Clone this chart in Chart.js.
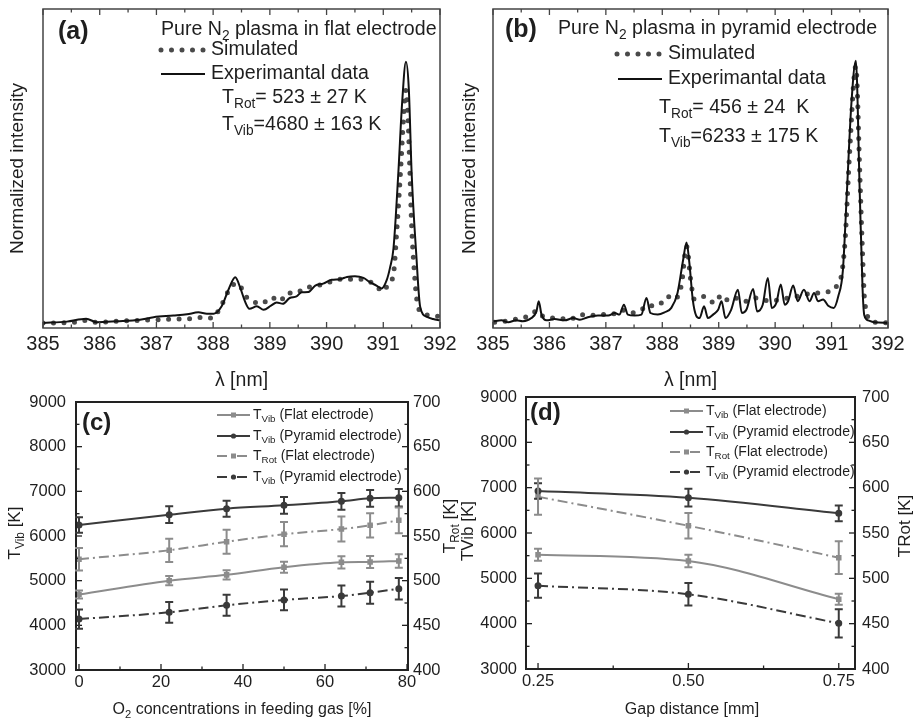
<!DOCTYPE html>
<html>
<head>
<meta charset="utf-8">
<script src="https://cdn.jsdelivr.net/npm/chart.js@4.4.1/dist/chart.umd.min.js"></script>
<style>
body { margin: 0; background: #fff; }
#wrap { position: relative; width: 915px; height: 720px; overflow: hidden; background: #fff; }
canvas { position: absolute; }
</style>
</head>
<body>
<div id="wrap">
  <canvas id="chartA" width="458" height="395" style="left:0px;top:0px"></canvas>
  <canvas id="chartB" width="460" height="395" style="left:455px;top:0px"></canvas>
  <canvas id="chartC" width="460" height="340" style="left:0px;top:380px"></canvas>
  <canvas id="chartD" width="460" height="340" style="left:455px;top:380px"></canvas>
</div>
<script>
// ---- data ----
// (a) pure N2, flat electrode
var aExpNm  = [385.00, 385.42, 385.76, 385.95, 386.30, 386.71, 386.95, 387.30, 387.54, 387.74, 387.89, 388.01, 388.15, 388.27, 388.39, 388.48, 388.56, 388.64, 388.77, 388.89, 389.02, 389.12, 389.23, 389.35, 389.47, 389.56, 389.68, 389.80, 389.94, 390.09, 390.24, 390.36, 390.50, 390.65, 390.77, 390.88, 390.97, 391.06, 391.12, 391.18, 391.265, 391.33, 391.40, 391.45, 391.50, 391.58, 391.65, 391.77, 391.88, 392.00];
var aExpInt = [0.016, 0.020, 0.029, 0.018, 0.021, 0.026, 0.034, 0.039, 0.043, 0.049, 0.045, 0.045, 0.068, 0.120, 0.159, 0.125, 0.084, 0.060, 0.068, 0.057, 0.070, 0.080, 0.076, 0.094, 0.099, 0.112, 0.113, 0.133, 0.139, 0.151, 0.153, 0.160, 0.162, 0.157, 0.143, 0.133, 0.124, 0.150, 0.190, 0.250, 0.485, 0.700, 0.835, 0.750, 0.485, 0.235, 0.067, 0.035, 0.028, 0.024];
var aSimNm  = [385.00, 385.30, 385.55, 385.76, 385.95, 386.30, 386.70, 387.00, 387.30, 387.60, 387.80, 387.98, 388.15, 388.30, 388.42, 388.50, 388.58, 388.69, 388.86, 389.02, 389.18, 389.30, 389.47, 389.60, 389.74, 389.91, 390.09, 390.27, 390.41, 390.59, 390.74, 390.88, 391.00, 391.08, 391.18, 391.24, 391.28, 391.32, 391.35, 391.40, 391.44, 391.47, 391.50, 391.55, 391.59, 391.65, 391.82, 392.00];
var aSimInt = [0.016, 0.016, 0.018, 0.024, 0.018, 0.021, 0.024, 0.026, 0.028, 0.029, 0.033, 0.031, 0.073, 0.125, 0.141, 0.125, 0.099, 0.084, 0.076, 0.096, 0.084, 0.110, 0.110, 0.125, 0.130, 0.136, 0.146, 0.153, 0.153, 0.153, 0.148, 0.130, 0.114, 0.135, 0.170, 0.310, 0.420, 0.540, 0.640, 0.746, 0.640, 0.485, 0.320, 0.170, 0.090, 0.052, 0.040, 0.036];

// (b) pure N2, pyramid electrode
var bExpNm  = [385.00, 385.15, 385.27, 385.41, 385.53, 385.68, 385.77, 385.81, 385.86, 385.95, 386.09, 386.27, 386.42, 386.54, 386.68, 386.86, 387.04, 387.16, 387.24, 387.32, 387.39, 387.51, 387.63, 387.72, 387.79, 387.92, 388.04, 388.16, 388.27, 388.37, 388.43, 388.48, 388.54, 388.60, 388.66, 388.74, 388.81, 388.90, 388.99, 389.05, 389.12, 389.22, 389.34, 389.41, 389.49, 389.61, 389.68, 389.78, 389.87, 389.94, 390.02, 390.10, 390.17, 390.23, 390.32, 390.40, 390.51, 390.61, 390.69, 390.76, 390.85, 390.94, 391.04, 391.12, 391.20, 391.27, 391.35, 391.43, 391.50, 391.55, 391.58, 391.65, 391.76, 392.00];
var bExpInt = [0.021, 0.024, 0.018, 0.024, 0.021, 0.031, 0.052, 0.084, 0.042, 0.024, 0.028, 0.024, 0.031, 0.026, 0.034, 0.039, 0.039, 0.047, 0.042, 0.073, 0.042, 0.039, 0.042, 0.094, 0.047, 0.042, 0.049, 0.063, 0.110, 0.214, 0.268, 0.204, 0.089, 0.039, 0.031, 0.068, 0.031, 0.042, 0.057, 0.084, 0.031, 0.057, 0.120, 0.047, 0.057, 0.122, 0.052, 0.073, 0.157, 0.063, 0.078, 0.136, 0.073, 0.084, 0.133, 0.084, 0.120, 0.084, 0.110, 0.084, 0.089, 0.070, 0.063, 0.100, 0.180, 0.420, 0.700, 0.838, 0.420, 0.120, 0.040, 0.024, 0.018, 0.016];
var bSimNm  = [385.03, 385.20, 385.35, 385.50, 385.68, 385.78, 385.90, 386.15, 386.36, 386.54, 386.71, 386.92, 387.10, 387.27, 387.45, 387.63, 387.75, 387.86, 387.98, 388.09, 388.20, 388.34, 388.43, 388.51, 388.57, 388.75, 388.93, 389.05, 389.19, 389.34, 389.49, 389.64, 389.78, 389.93, 390.08, 390.23, 390.38, 390.52, 390.67, 390.82, 390.97, 391.05, 391.11, 391.18, 391.24, 391.32, 391.43, 391.50, 391.54, 391.59, 391.73, 392.00];
var bSimInt = [0.018, 0.021, 0.026, 0.031, 0.042, 0.055, 0.035, 0.031, 0.026, 0.042, 0.039, 0.042, 0.042, 0.057, 0.047, 0.057, 0.073, 0.068, 0.078, 0.099, 0.089, 0.136, 0.256, 0.141, 0.089, 0.099, 0.078, 0.104, 0.084, 0.094, 0.084, 0.094, 0.089, 0.084, 0.089, 0.094, 0.099, 0.104, 0.110, 0.110, 0.115, 0.120, 0.140, 0.170, 0.276, 0.550, 0.820, 0.486, 0.276, 0.078, 0.019, 0.016];

var nmTicks = [385, 386, 387, 388, 389, 390, 391, 392];
var nmMinor = [385.5, 386.5, 387.5, 388.5, 389.5, 390.5, 391.5];

// (c) O2 concentration series
var o2Conc = [0, 22, 36, 50, 64, 71, 78];
var cVibFlat = [4690, 5000, 5130, 5300, 5410, 5420, 5440];
var cVibFlatErr = [90, 105, 105, 125, 135, 135, 150];
var cVibPyr = [6246, 6477, 6611, 6686, 6776, 6843, 6857];
var cVibPyrErr = [172, 187, 180, 187, 187, 187, 195];
var cRotFlat = [524, 534, 543.6, 552, 557.8, 562, 567.6];
var cRotFlatErr = [12.7, 13, 13.4, 13.6, 14, 13.6, 14.4];
var cRotPyr = [457, 464.6, 472.4, 478.4, 482.8, 486.5, 491];
var cRotPyrErr = [10.8, 11.6, 11.8, 11.6, 11.8, 12.3, 12.1];

// (d) gap distance series
var gapDist = [0.25, 0.50, 0.75];
var dVibFlat = [5522, 5382, 4537];
var dVibFlatErr = [132, 136, 121];
var dVibPyr = [6927, 6779, 6434];
var dVibPyrErr = [170, 195, 173];
var dRotFlat = [590, 558, 522.8];
var dRotFlatErr = [20, 14, 18];
var dRotPyr = [491.9, 482.4, 450.4];
var dRotPyrErr = [13.4, 12.5, 15.6];

var vibTicks = [3000, 4000, 5000, 6000, 7000, 8000, 9000];
var vibMinor = [3500, 4500, 5500, 6500, 7500, 8500];
var rotTicks = [400, 450, 500, 550, 600, 650, 700];
var rotMinor = [425, 475, 525, 575, 625, 675];

var seriesNames = [
  [['T'], ['Vib', 1], [' (Flat electrode)']],
  [['T'], ['Vib', 1], [' (Pyramid electrode)']],
  [['T'], ['Rot', 1], [' (Flat electrode)']],
  [['T'], ['Vib', 1], [' (Pyramid electrode)']]
];

var FONT = "'Liberation Sans', Arial, sans-serif";
var LIGHT = '#8c8c8c';
var DARK = '#3a3a3a';
var TXT = '#1e1e1e';
Chart.defaults.font.family = FONT;
Chart.defaults.color = TXT;

// text with subscripts, parts = [[text, isSub], ...]
function drawRich(ctx, parts, x, y, size, opt) {
  opt = opt || {};
  var weight = opt.bold ? 'bold ' : '';
  ctx.save();
  ctx.fillStyle = TXT;
  ctx.textBaseline = 'middle';
  ctx.textAlign = 'left';
  var w = 0;
  parts.forEach(function(p) {
    ctx.font = weight + (p[1] ? size * 0.7 : size) + 'px ' + FONT;
    w += ctx.measureText(p[0]).width;
  });
  ctx.translate(x, y);
  if (opt.rot) ctx.rotate(opt.rot);
  var cx = opt.center ? -w / 2 : 0;
  parts.forEach(function(p) {
    ctx.font = weight + (p[1] ? size * 0.7 : size) + 'px ' + FONT;
    ctx.fillText(p[0], cx, p[1] ? size * 0.32 : 0);
    cx += ctx.measureText(p[0]).width;
  });
  ctx.restore();
}

function makeFrame(spec) {
  return {
    id: 'frame',
    afterDatasetsDraw: function(chart) {
      var ctx = chart.ctx, a = chart.chartArea;
      function xTick(v, len) {
        var px = chart.scales.x.getPixelForValue(v);
        ctx.beginPath();
        ctx.moveTo(px, a.bottom); ctx.lineTo(px, a.bottom - len);
        if (spec.topTicks) { ctx.moveTo(px, a.top); ctx.lineTo(px, a.top + len); }
        ctx.stroke();
      }
      function yTick(id, v, len) {
        var py = chart.scales[id].getPixelForValue(v);
        var x0 = id === 'y' ? a.left : a.right;
        var dir = id === 'y' ? 1 : -1;
        ctx.beginPath(); ctx.moveTo(x0, py); ctx.lineTo(x0 + dir * len, py); ctx.stroke();
      }
      ctx.save();
      ctx.strokeStyle = spec.color;
      ctx.lineWidth = spec.width;
      ctx.strokeRect(a.left, a.top, a.right - a.left, a.bottom - a.top);
      ctx.lineWidth = 1.3;
      spec.xMajor.forEach(function(v) { xTick(v, 6); });
      spec.xMinor.forEach(function(v) { xTick(v, 3.5); });
      if (spec.yMajor) {
        spec.yMajor.forEach(function(v) { yTick('y', v, 6); });
        spec.yMinor.forEach(function(v) { yTick('y', v, 3.5); });
        spec.y2Major.forEach(function(v) { yTick('y2', v, 6); });
        spec.y2Minor.forEach(function(v) { yTick('y2', v, 3.5); });
      }
      ctx.restore();
    }
  };
}

var errorBars = {
  id: 'errorBars',
  afterDatasetsDraw: function(chart) {
    var ctx = chart.ctx;
    chart.data.datasets.forEach(function(ds, i) {
      if (!ds.errors) return;
      var meta = chart.getDatasetMeta(i);
      var ys = chart.scales[meta.yAxisID];
      ctx.save();
      ctx.strokeStyle = ds.borderColor;
      ctx.lineWidth = 2;
      meta.data.forEach(function(pt, j) {
        var v = ds.data[j].y, e = ds.errors[j];
        var y1 = ys.getPixelForValue(v - e), y2 = ys.getPixelForValue(v + e);
        ctx.beginPath();
        ctx.moveTo(pt.x, y1); ctx.lineTo(pt.x, y2);
        ctx.moveTo(pt.x - 4, y1); ctx.lineTo(pt.x + 4, y1);
        ctx.moveTo(pt.x - 4, y2); ctx.lineTo(pt.x + 4, y2);
        ctx.stroke();
      });
      ctx.restore();
    });
  }
};

function pts(xs, ys) {
  return xs.map(function(x, i) { return { x: x, y: ys[i] }; });
}

function dotSample(ctx, x0, x1, y) {
  ctx.save();
  ctx.strokeStyle = '#4a4a4a'; ctx.lineWidth = 5; ctx.lineCap = 'round';
  ctx.setLineDash([0, 10.5]);
  ctx.beginPath(); ctx.moveTo(x0, y); ctx.lineTo(x1, y); ctx.stroke();
  ctx.restore();
}
function lineSample(ctx, x0, x1, y) {
  ctx.save();
  ctx.strokeStyle = '#111'; ctx.lineWidth = 2;
  ctx.beginPath(); ctx.moveTo(x0, y); ctx.lineTo(x1, y); ctx.stroke();
  ctx.restore();
}

function noAxisLines() {
  return { grid: { display: false, drawTicks: false }, border: { display: false } };
}

function makeSpectrum(canvasId, expNm, expInt, simNm, simInt, box, notes) {
  var cv = document.getElementById(canvasId);
  var W = cv.width, H = cv.height;
  return new Chart(cv.getContext('2d'), {
    type: 'line',
    data: {
      datasets: [{
        data: pts(expNm, expInt),
        borderColor: '#111', borderWidth: 2, pointRadius: 0,
        cubicInterpolationMode: 'monotone'
      }, {
        data: pts(simNm, simInt),
        borderColor: '#4a4a4a', borderWidth: 5, pointRadius: 0,
        borderDash: [0, 10.5], borderCapStyle: 'round',
        cubicInterpolationMode: 'monotone'
      }]
    },
    options: {
      responsive: false, animation: false,
      layout: { padding: { left: 0, top: box.top, right: W - box.right, bottom: 0 } },
      plugins: { legend: { display: false }, tooltip: { enabled: false } },
      scales: {
        x: Object.assign(noAxisLines(), {
          type: 'linear', min: 385, max: 392,
          afterBuildTicks: function(s) { s.ticks = nmTicks.map(function(v) { return { value: v }; }); },
          afterFit: function(s) { s.height = H - box.bottom; s.paddingLeft = 0; s.paddingRight = 0; },
          ticks: { font: { size: 20 }, padding: 4, maxRotation: 0, autoSkip: false, callback: function(v) { return String(v); } }
        }),
        y: Object.assign(noAxisLines(), {
          min: 0, max: 1,
          afterFit: function(s) { s.width = box.left; s.paddingTop = 0; s.paddingBottom = 0; },
          ticks: { display: false }
        })
      }
    },
    plugins: [
      makeFrame({ color: '#444', width: 1.5, topTicks: true, xMajor: nmTicks, xMinor: nmMinor }),
      { id: 'notes', afterDraw: function(chart) {
          var ctx = chart.ctx, a = chart.chartArea;
          drawRich(ctx, [['Normalized intensity']], box.ytitle, (a.top + a.bottom) / 2, 19, { rot: -Math.PI / 2, center: true });
          drawRich(ctx, [['\u03bb [nm]']], (a.left + a.right) / 2, 381, 19.5, { center: true });
          notes(ctx);
        } }
    ]
  });
}

makeSpectrum('chartA', aExpNm, aExpInt, aSimNm, aSimInt,
  { left: 43, right: 440, top: 9, bottom: 328, ytitle: 18 },
  function(ctx) {
    drawRich(ctx, [['(a)']], 58, 32, 25, { bold: true });
    drawRich(ctx, [['Pure N'], ['2', 1], [' plasma in flat electrode']], 161, 30, 19.6);
    dotSample(ctx, 161, 207, 50);
    drawRich(ctx, [['Simulated']], 211, 50, 19.6);
    lineSample(ctx, 161, 205, 74);
    drawRich(ctx, [['Experimantal data']], 211, 74, 19.6);
    drawRich(ctx, [['T'], ['Rot', 1], ['= 523 \u00b1 27 K']], 222, 98, 19.6);
    drawRich(ctx, [['T'], ['Vib', 1], ['=4680 \u00b1 163 K']], 222, 125, 19.6);
  });

makeSpectrum('chartB', bExpNm, bExpInt, bSimNm, bSimInt,
  { left: 38, right: 433, top: 9, bottom: 328, ytitle: 15 },
  function(ctx) {
    drawRich(ctx, [['(b)']], 50, 30, 25, { bold: true });
    drawRich(ctx, [['Pure N'], ['2', 1], [' plasma in pyramid electrode']], 103, 29, 19.6);
    dotSample(ctx, 162, 208, 54);
    drawRich(ctx, [['Simulated']], 213, 54, 19.6);
    lineSample(ctx, 163, 207, 79);
    drawRich(ctx, [['Experimantal data']], 213, 79, 19.6);
    drawRich(ctx, [['T'], ['Rot', 1], ['= 456 \u00b1 24  K']], 204, 108, 19.6);
    drawRich(ctx, [['T'], ['Vib', 1], ['=6233 \u00b1 175 K']], 204, 137, 19.6);
  });

function tempSeries(xs, vib1, vib1e, vib2, vib2e, rot1, rot1e, rot2, rot2e) {
  var base = { borderWidth: 2, pointRadius: 2.5, cubicInterpolationMode: 'monotone' };
  return [
    Object.assign({ data: pts(xs, vib1), errors: vib1e, yAxisID: 'y', borderColor: LIGHT, backgroundColor: LIGHT, pointStyle: 'rect' }, base),
    Object.assign({ data: pts(xs, vib2), errors: vib2e, yAxisID: 'y', borderColor: DARK, backgroundColor: DARK, pointStyle: 'circle' }, base),
    Object.assign({ data: pts(xs, rot1), errors: rot1e, yAxisID: 'y2', borderColor: LIGHT, backgroundColor: LIGHT, pointStyle: 'rect', borderDash: [10, 4, 2, 4] }, base),
    Object.assign({ data: pts(xs, rot2), errors: rot2e, yAxisID: 'y2', borderColor: DARK, backgroundColor: DARK, pointStyle: 'circle', borderDash: [10, 4, 2, 4] }, base)
  ];
}

function makeTemps(canvasId, datasets, box, xSpec, notes) {
  var cv = document.getElementById(canvasId);
  var W = cv.width, H = cv.height;
  return new Chart(cv.getContext('2d'), {
    type: 'line',
    data: { datasets: datasets },
    options: {
      responsive: false, animation: false,
      layout: { padding: { left: 0, top: box.top, right: 0, bottom: 0 } },
      plugins: { legend: { display: false }, tooltip: { enabled: false } },
      scales: {
        x: Object.assign(noAxisLines(), {
          type: 'linear', min: xSpec.min, max: xSpec.max,
          afterBuildTicks: function(s) { s.ticks = xSpec.major.map(function(v) { return { value: v }; }); },
          afterFit: function(s) { s.height = H - box.bottom; s.paddingLeft = 0; s.paddingRight = 0; },
          ticks: { font: { size: 16.5 }, padding: 3, maxRotation: 0, autoSkip: false, callback: xSpec.fmt }
        }),
        y: Object.assign(noAxisLines(), {
          position: 'left', min: 3000, max: 9000,
          afterBuildTicks: function(s) { s.ticks = vibTicks.map(function(v) { return { value: v }; }); },
          afterFit: function(s) { s.width = box.left; s.paddingTop = 0; s.paddingBottom = 0; },
          ticks: { font: { size: 16.5 }, padding: box.lpad, callback: function(v) { return String(v); } }
        }),
        y2: Object.assign(noAxisLines(), {
          position: 'right', min: 400, max: 700,
          afterBuildTicks: function(s) { s.ticks = rotTicks.map(function(v) { return { value: v }; }); },
          afterFit: function(s) { s.width = W - box.right; s.paddingTop = 0; s.paddingBottom = 0; },
          ticks: { font: { size: 16.5 }, padding: box.rpad, callback: function(v) { return String(v); } }
        })
      }
    },
    plugins: [
      makeFrame({ color: '#222', width: 2, topTicks: false, xMajor: xSpec.major, xMinor: xSpec.minor,
        yMajor: vibTicks, yMinor: vibMinor, y2Major: rotTicks, y2Minor: rotMinor }),
      errorBars,
      { id: 'notes', afterDraw: function(chart) {
          var ctx = chart.ctx;
          chart.data.datasets.forEach(function(ds, i) {
            var y = box.legendY[i], x0 = box.legendX, x1 = box.legendX + 33;
            ctx.save();
            ctx.strokeStyle = ds.borderColor; ctx.lineWidth = 2;
            ctx.setLineDash(ds.borderDash || []);
            ctx.beginPath(); ctx.moveTo(x0, y); ctx.lineTo(x1, y); ctx.stroke();
            ctx.setLineDash([]);
            ctx.fillStyle = ds.borderColor;
            var mx = (x0 + x1) / 2;
            if (ds.pointStyle === 'rect') ctx.fillRect(mx - 2.5, y - 2.5, 5, 5);
            else { ctx.beginPath(); ctx.arc(mx, y, 2.6, 0, 2 * Math.PI); ctx.fill(); }
            ctx.restore();
            drawRich(ctx, seriesNames[i], x1 + 3, y, 14);
          });
          notes(ctx);
        } }
    ]
  });
}

makeTemps('chartC',
  tempSeries(o2Conc, cVibFlat, cVibFlatErr, cVibPyr, cVibPyrErr, cRotFlat, cRotFlatErr, cRotPyr, cRotPyrErr),
  { left: 76, right: 408, top: 22, bottom: 290, lpad: 10, rpad: 5, legendX: 217, legendY: [35, 56, 76, 97] },
  { min: -0.73, max: 80.24, major: [0, 20, 40, 60, 80], minor: [10, 30, 50, 70], fmt: function(v) { return String(v); } },
  function(ctx) {
    drawRich(ctx, [['(c)']], 82, 43, 24, { bold: true });
    drawRich(ctx, [['T'], ['Vib', 1], [' [K]']], 15, 153, 17, { rot: -Math.PI / 2, center: true });
    drawRich(ctx, [['T'], ['Rot', 1], [' [K]']], 450, 146, 17, { rot: -Math.PI / 2, center: true });
    drawRich(ctx, [['O'], ['2', 1], [' concentrations in feeding gas [%]']], 242, 330, 16, { center: true });
  });

makeTemps('chartD',
  tempSeries(gapDist, dVibFlat, dVibFlatErr, dVibPyr, dVibPyrErr, dRotFlat, dRotFlatErr, dRotPyr, dRotPyrErr),
  { left: 71, right: 400, top: 17, bottom: 289, lpad: 9, rpad: 7, legendX: 215, legendY: [31, 52, 72, 92] },
  { min: 0.23, max: 0.777, major: [0.25, 0.5, 0.75], minor: [0.375, 0.625], fmt: function(v) { return v.toFixed(2); } },
  function(ctx) {
    drawRich(ctx, [['(d)']], 75, 33, 24, { bold: true });
    drawRich(ctx, [['TVib [K]']], 13, 151, 17, { rot: -Math.PI / 2, center: true });
    drawRich(ctx, [['TRot [K]']], 450, 146, 17, { rot: -Math.PI / 2, center: true });
    drawRich(ctx, [['Gap distance [mm]']], 237, 330, 16, { center: true });
  });
</script>
</body>
</html>
